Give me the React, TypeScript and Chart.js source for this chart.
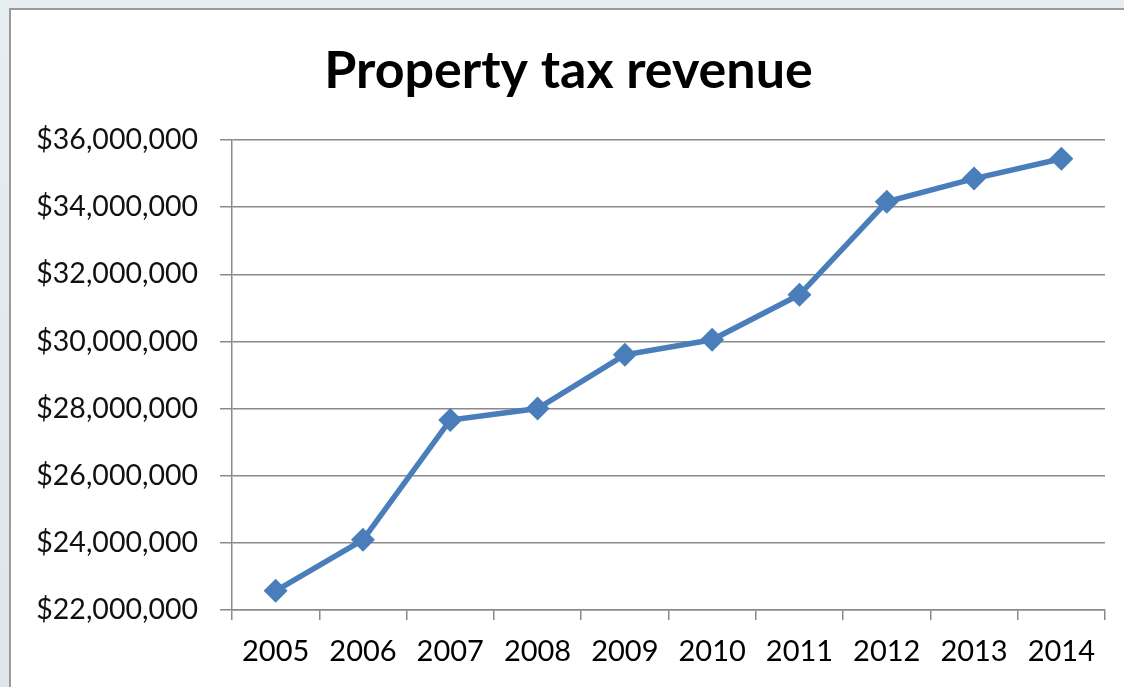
import React, { useEffect, useRef } from "react";
import { Chart, registerables } from "chart.js";

Chart.register(...registerables);

const years = ["2005", "2006", "2007", "2008", "2009", "2010", "2011", "2012", "2013", "2014"];
const revenue = [22570000, 24090000, 27660000, 28000000, 29600000, 30050000, 31390000, 34160000, 34850000, 35440000];
const yMin = 22000000;
const yMax = 36000000;
const yStep = 2000000;
const titleText = "Property tax revenue";

const bgPlugin = {
  id: "bgFrame",
  beforeDraw(chart: any) {
    const { ctx, width, height } = chart;
    ctx.save();
    const g = ctx.createLinearGradient(0, 0, 0, height);
    g.addColorStop(0, "#e6eef2");
    g.addColorStop(1, "#dfe6ea");
    ctx.fillStyle = g;
    ctx.fillRect(0, 0, width, height);
    ctx.fillStyle = "#ffffff";
    ctx.fillRect(10, 8, width - 10, height - 8);
    ctx.strokeStyle = "#9a9a9a";
    ctx.lineWidth = 2;
    ctx.beginPath();
    ctx.moveTo(10, height + 5);
    ctx.lineTo(10, 9);
    ctx.lineTo(width + 5, 9);
    ctx.stroke();
    ctx.restore();
  },
};

export default function App() {
  const ref = useRef<HTMLCanvasElement | null>(null);
  useEffect(() => {
    document.body.style.margin = "0";
    const canvas = ref.current;
    if (!canvas) return;
    const chart = new Chart(canvas, {
      type: "line",
      data: {
        labels: years,
        datasets: [
          {
            label: "Property tax revenue",
            data: revenue,
            borderColor: "#4a7ebb",
            backgroundColor: "#4a7ebb",
            borderWidth: 5.5,
            pointStyle: "rectRot",
            pointRadius: 12,
            pointBorderWidth: 0,
            pointBackgroundColor: "#4a7ebb",
            tension: 0,
          },
        ],
      },
      options: {
        animation: false,
        responsive: false,
        maintainAspectRatio: false,
        layout: { padding: { left: 32, right: 19, top: 0, bottom: 0 } },
        plugins: {
          legend: { display: false },
          tooltip: { enabled: false },
          title: {
            display: true,
            text: titleText,
            color: "#000000",
            font: { family: "Lato", size: 52, weight: "bold" },
            padding: { top: 40.5, bottom: 37.1 },
          },
        },
        scales: {
          x: {
            type: "category",
            offset: true,
            afterFit(scale: any) {
              scale.height = 77;
            },
            grid: {
              offset: true,
              drawOnChartArea: false,
              drawTicks: true,
              tickLength: 10,
              color: "#8a8a8a",
              lineWidth: 1.5,
            },
            border: { display: true, color: "#8a8a8a", width: 1.5 },
            ticks: {
              color: "#000000",
              padding: 14,
              maxRotation: 0,
              font: { family: "Lato", size: 29 },
            },
          },
          y: {
            min: yMin,
            max: yMax,
            afterFit(scale: any) {
              scale.width = 200;
            },
            grid: {
              drawTicks: true,
              tickLength: 12,
              color: "#8a8a8a",
              lineWidth: 1.5,
            },
            border: { display: true, color: "#8a8a8a", width: 1.5 },
            ticks: {
              stepSize: yStep,
              color: "#111111",
              padding: 22,
              font: { family: "Lato", size: 28.5 },
              callback: (v: any) => "$" + Number(v).toLocaleString("en-US"),
            },
          },
        },
      },
      plugins: [bgPlugin],
    });
    return () => chart.destroy();
  }, []);
  return <canvas ref={ref} width={1124} height={687} style={{ display: "block" }} />;
}
